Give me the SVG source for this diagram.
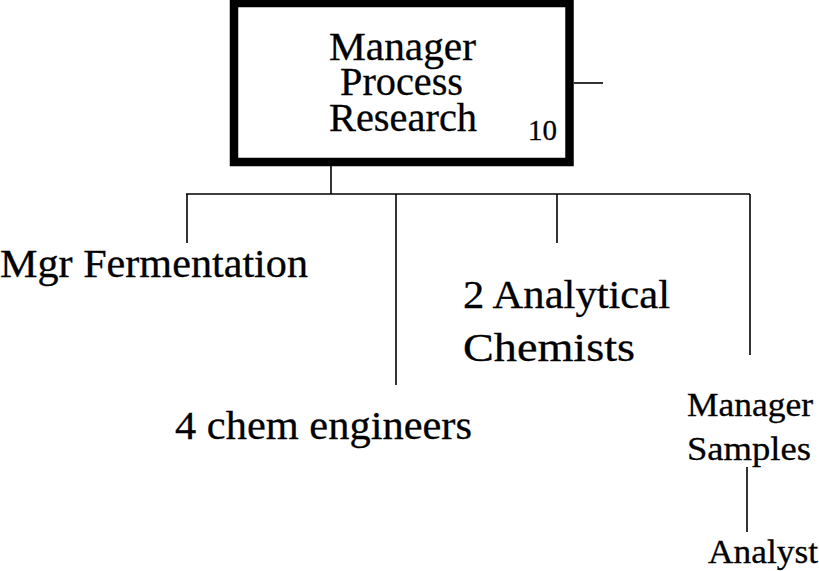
<svg xmlns="http://www.w3.org/2000/svg" width="819" height="571" viewBox="0 0 819 571">
<style>
.l{stroke:#000;stroke-width:1.6;fill:none}
text{font-family:"Liberation Serif","Times New Roman",serif;fill:#000;stroke:#000;stroke-width:0.3;font-size:39px}
.s{font-size:33px}
</style>
<rect width="819" height="571" fill="#fff"/>
<g id="connectors">
<line class="l" x1="574" y1="83" x2="603" y2="83"/>
<line class="l" x1="331" y1="166" x2="331" y2="194"/>
<line class="l" x1="186" y1="194" x2="750" y2="194"/>
<line class="l" x1="187" y1="194" x2="187" y2="243"/>
<line class="l" x1="396" y1="194" x2="396" y2="385"/>
<line class="l" x1="557" y1="194" x2="557" y2="243"/>
<line class="l" x1="750" y1="194" x2="750" y2="355"/>
<line class="l" x1="747" y1="467" x2="747" y2="532"/>
</g>
<g id="manager-process-research">
<rect x="234" y="3" width="335.5" height="159" fill="#fff" stroke="#000" stroke-width="8.5"/>
<text x="329" y="60" textLength="147" lengthAdjust="spacingAndGlyphs">Manager</text>
<text x="340" y="95" textLength="123" lengthAdjust="spacingAndGlyphs">Process</text>
<text x="329" y="131" textLength="148" lengthAdjust="spacingAndGlyphs">Research</text>
<text x="528" y="140" style="font-size:30px" textLength="29" lengthAdjust="spacingAndGlyphs">10</text>
</g>
<g id="mgr-fermentation">
<text x="0" y="277" textLength="308" lengthAdjust="spacingAndGlyphs">Mgr Fermentation</text>
</g>
<g id="chem-engineers">
<text x="175" y="439" textLength="297" lengthAdjust="spacingAndGlyphs">4 chem engineers</text>
</g>
<g id="analytical-chemists">
<text x="463" y="308" textLength="207" lengthAdjust="spacingAndGlyphs">2 Analytical</text>
<text x="463" y="361" textLength="172" lengthAdjust="spacingAndGlyphs">Chemists</text>
</g>
<g id="manager-samples">
<text class="s" x="687" y="416" textLength="126" lengthAdjust="spacingAndGlyphs">Manager</text>
<text class="s" x="687" y="460" textLength="124" lengthAdjust="spacingAndGlyphs">Samples</text>
</g>
<g id="analyst">
<text class="s" x="708" y="563" textLength="110" lengthAdjust="spacingAndGlyphs">Analyst</text>
</g>
</svg>
